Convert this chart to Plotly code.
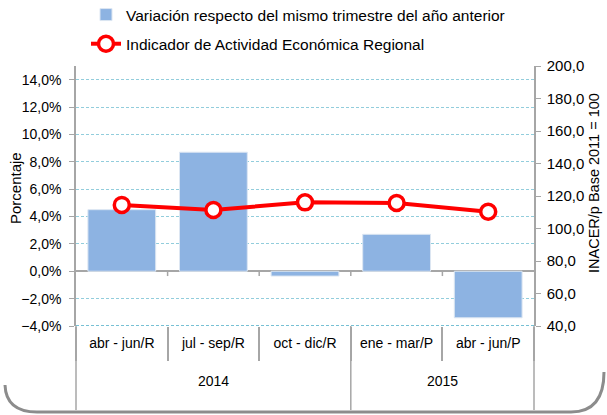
import plotly.graph_objects as go

years = ["2014", "2015"]
year_counts = [3, 2]
quarters = ["abr - jun/R", "jul - sep/R", "oct - dic/R", "ene - mar/P", "abr - jun/P"]
variacion = [4.5, 8.7, -0.35, 2.7, -3.4]
inacer = [114.5, 111.4, 116.1, 115.7, 110.3]

FONT = "Liberation Sans, Arial, sans-serif"

# plot area in pixels
L, R, T, B = 76, 534, 66, 326
W, H = 607, 415

def px(x):
    return (x - L) / (R - L)

def py(y):
    return (B - y) / (B - T)

fig = go.Figure()
fig.add_trace(go.Bar(
    x=quarters, y=variacion,
    name="Variación respecto del mismo trimestre del año anterior",
    marker=dict(color="#8DB3E2", line=dict(color="#DCE6F2", width=1)),
    width=0.74, legendgroup="a",
))
fig.add_trace(go.Scatter(
    x=quarters, y=inacer, yaxis="y2",
    name="Indicador de Actividad Económica Regional",
    mode="lines+markers",
    line=dict(color="#FF0000", width=4),
    marker=dict(symbol="circle", size=15, color="white",
                line=dict(color="#FF0000", width=3.5)),
    legendgroup="b",
))

GRAY = "#A6A6A6"
shapes = []
# -4% baseline dashed line
shapes.append(dict(type="line", xref="paper", yref="y", x0=0, x1=1, y0=-4, y1=-4,
                   line=dict(color="#4BACC6", width=1.5, dash="3px,2px"), layer="below"))
# small ticks at zero line between categories
for i in range(len(quarters) - 1):
    shapes.append(dict(type="line", xref="x", yref="y", x0=i + 0.5, x1=i + 0.5,
                       y0=0, y1=-0.35, line=dict(color=GRAY, width=1.5)))
# year group dividers (outer boundaries + between years)
n = len(quarters)
bounds = [0]
for c in year_counts:
    bounds.append(bounds[-1] + c)
for b in bounds:
    shapes.append(dict(type="line", xref="paper", yref="paper",
                       x0=b / n, x1=b / n, y0=0, y1=py(410),
                       line=dict(color=GRAY, width=1.5)))
# frame with rounded bottom corners
r = 32
frame = (f"M {px(5)} {py(385)} "
         f"Q {px(6)} {py(412)} {px(5+r)} {py(412)} "
         f"L {px(603-r)} {py(412)} Q {px(604)} {py(412)} {px(604)} {py(372)}")
shapes.append(dict(type="path", xref="paper", yref="paper", path=frame,
                   line=dict(color="#8C8C8C", width=3)))

annotations = []
for k, yname in enumerate(years):
    cx = (bounds[k] + bounds[k + 1]) / 2 / n
    annotations.append(dict(text=yname, x=cx, y=py(381), xref="paper", yref="paper",
                            showarrow=False, font=dict(family=FONT, size=14),
                            xanchor="center", yanchor="middle"))
annotations.append(dict(text="Porcentaje", x=px(15), y=py(188), xref="paper", yref="paper",
                        showarrow=False, textangle=-90, font=dict(family=FONT, size=15),
                        xanchor="center", yanchor="middle"))
annotations.append(dict(text="INACER/p Base 2011 = 100", x=px(594), y=py(183),
                        xref="paper", yref="paper", showarrow=False, textangle=-90,
                        font=dict(family=FONT, size=14.5),
                        xanchor="center", yanchor="middle"))

fig.update_layout(
    width=W, height=H,
    margin=dict(l=L, r=W - R, t=T, b=H - B, autoexpand=False),
    paper_bgcolor="white", plot_bgcolor="white",
    separators=",.",
    font=dict(family=FONT, size=14, color="black"),
    showlegend=True,
    legend=dict(x=px(86), y=py(-2), xanchor="left", yanchor="top",
                traceorder="grouped", tracegroupgap=6,
                font=dict(family=FONT, size=15.5), itemwidth=30,
                bgcolor="rgba(0,0,0,0)"),
    xaxis=dict(
        type="category", showline=False, automargin=False,
        ticks="outside", tickson="boundaries", ticklen=34,
        tickcolor=GRAY, tickwidth=1.5, ticklabelstandoff=7,
        tickfont=dict(family=FONT, size=14),
        showgrid=False, range=[-0.5, n - 0.5],
    ),
    yaxis=dict(
        range=[-4, 15], dtick=2, tick0=0, tickformat=".1f", ticksuffix="%",
        showline=True, linecolor=GRAY, linewidth=1.5, automargin=False,
        ticks="outside", ticklen=5, tickcolor=GRAY, ticklabelstandoff=5,
        showgrid=True, gridcolor="#92CDDC", griddash="3px,2px", gridwidth=1,
        zeroline=True, zerolinecolor=GRAY, zerolinewidth=1.5,
        tickfont=dict(family=FONT, size=14),
    ),
    yaxis2=dict(
        range=[40, 200], dtick=20, tickformat=".1f", overlaying="y", side="right",
        showline=True, linecolor=GRAY, linewidth=1.5, automargin=False,
        ticks="outside", ticklen=5, tickcolor=GRAY, ticklabelstandoff=3,
        showgrid=False, zeroline=False,
        tickfont=dict(family=FONT, size=15),
    ),
    shapes=shapes,
    annotations=annotations,
)

fig.write_html("out.html", config={"displayModeBar": False},
               post_script="document.body.style.margin='0';document.body.style.padding='0';")
